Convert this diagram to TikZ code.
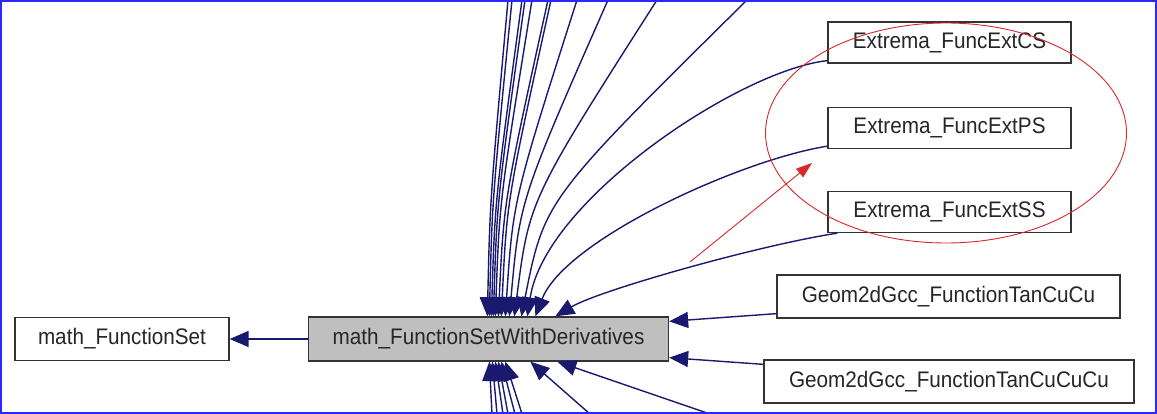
\documentclass[tikz,border=0pt]{standalone}
\usepackage{fontspec}
\setmainfont{Liberation Sans}[FakeStretch=0.92]
\usetikzlibrary{arrows.meta,shapes.geometric,calc}
\definecolor{edgeblue}{RGB}{25,25,112}
\definecolor{frameblue}{RGB}{40,40,255}
\definecolor{hlred}{RGB}{215,40,45}
\definecolor{boxgray}{RGB}{191,191,191}
\begin{document}
\begin{tikzpicture}[x=1pt,y=-1pt,
  box/.style={draw=black!80, line width=1.3pt, fill=white, inner sep=0pt,
    text=black!85, font=\fontsize{22.5}{26}\selectfont},
  edge/.style={draw=edgeblue, line width=1.4pt, -{Triangle[length=19pt,width=16pt]}},
  note/.style={draw=hlred, line width=0.9pt},
]
\useasboundingbox (0,0) rectangle (1157,414);
\fill[white] (0,0) rectangle (1157,414);

% nodes
\node[box, minimum width=214pt, minimum height=43pt] (fs) at (122,339) {math\_FunctionSet};
\node[box, fill=boxgray, minimum width=360pt, minimum height=44pt] (fsd) at (488.5,339) {math\_FunctionSetWithDerivatives};
\node[box, minimum width=243pt, minimum height=41pt] (cs) at (949.5,42.5) {Extrema\_FuncExtCS};
\node[box, minimum width=243pt, minimum height=41pt] (ps) at (949.5,128) {Extrema\_FuncExtPS};
\node[box, minimum width=243pt, minimum height=41pt] (ss) at (949.5,212) {Extrema\_FuncExtSS};
\node[box, minimum width=343pt, minimum height=43pt] (tcc) at (948.5,296.5) {Geom2dGcc\_FunctionTanCuCu};
\node[box, minimum width=370pt, minimum height=43pt] (tccc) at (949,381.5) {Geom2dGcc\_FunctionTanCuCuCu};

% edge to base class
\draw[edge] (fsd.west) -- (fs.east);

% edges from classes above the frame
\foreach \xt/\xe in {508/488, 512/490, 522/492, 525/494, 532/496, 548/499, 551/502, 577/506, 608/510, 657/515, 747/522}{
  \coordinate (t\xt) at (\xt,0);
  \draw[edge] (t\xt) .. controls ({\xe+0.1*(\xt-\xe)},200) .. ([xshift={\xe-308.5}]fsd.north west);
}

% edges from the Extrema classes
\draw[edge] ([yshift=3pt]cs.south west) .. controls (740,70) and (545,200) .. ([xshift={528-308.5}]fsd.north west);
\draw[edge] ([yshift=3pt]ps.south west) .. controls (740,160) and (565,240) .. ([xshift={536-308.5}]fsd.north west);
\draw[edge] ([xshift=10pt]ss.south west) .. controls (760,245) and (600,290) .. ([xshift={556-308.5}]fsd.north west);

% edges from the Geom2dGcc classes
\draw[edge] ([yshift=5pt]tcc.south west) -- ([yshift=-5pt]fsd.north east);
\draw[edge] ([yshift=-5pt]tccc.north west) -- ([yshift=4pt]fsd.south east);

% edges from classes below the frame
\foreach \xb/\xe in {492/490, 497/493, 503/496, 508/499, 515/502, 522/506, 590/531, 710/558}{
  \coordinate (b\xb) at (\xb,414);
  \draw[edge] (b\xb) -- ([xshift={\xe-308.5}]fsd.south west);
}

% red highlight
\node[ellipse, note, minimum width=361pt, minimum height=220pt, inner sep=0pt] (hl) at (946,133) {};
\coordinate (ra) at (690,262);
\coordinate (rb) at (812,163);
\draw[note, -{Triangle[length=16pt,width=11pt]}] (ra) -- (rb);

% frame
\draw[frameblue, line width=2pt] (1,1) rectangle (1156,413);
\end{tikzpicture}
\end{document}
